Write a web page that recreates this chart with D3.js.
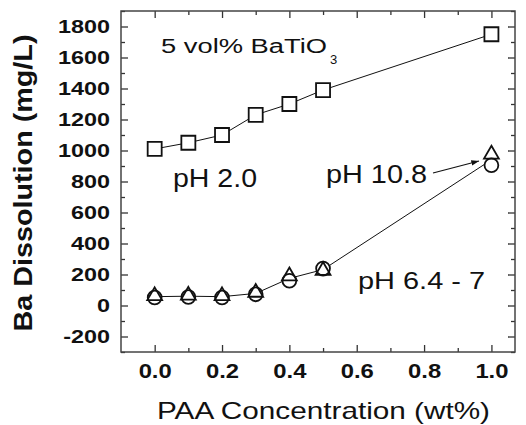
<!DOCTYPE html>
<html>
<head>
<meta charset="utf-8">
<script src="https://cdn.jsdelivr.net/npm/d3@7"></script>
<style>
  body { margin: 0; background: #fff; }
  svg { display: block; font-family: "Liberation Sans", Arial, sans-serif; }
</style>
</head>
<body>
<div id="chart"></div>
<script>
// data
var conc = [0.0, 0.1, 0.2, 0.3, 0.4, 0.5, 1.0];
var phAcid = [1010, 1050, 1100, 1230, 1300, 1390, 1750];     // squares, pH 2.0
var phTri = [62, 65, 62, 84, 190, 225, 975];                // triangles
var phCirc = [52, 55, 52, 72, 160, 238, 905];               // circles
var xTicks = [0.0, 0.2, 0.4, 0.6, 0.8, 1.0];
var xMinor = [0.1, 0.3, 0.5, 0.7, 0.9];
var yTicks = [-200, 0, 200, 400, 600, 800, 1000, 1200, 1400, 1600, 1800];
var yMinor = [-300, -100, 100, 300, 500, 700, 900, 1100, 1300, 1500, 1700, 1900];

var W = 526, H = 425;
var margin = {top: 11, right: 11, bottom: 73, left: 121},
    width = W - margin.left - margin.right,
    height = H - margin.top - margin.bottom;

var svg = d3.select("#chart").append("svg")
    .attr("width", W)
    .attr("height", H);

var g = svg.append("g")
    .attr("transform", "translate(" + margin.left + "," + margin.top + ")");

var x = d3.scaleLinear().domain([-0.1, 1.07]).range([0, width]);
var y = d3.scaleLinear().domain([-300, 1900]).range([height, 0]);

// axes, ticks pointing inward
function styleAxis(sel) {
  sel.select(".domain").remove();
  sel.selectAll("line").attr("stroke", "#333").attr("stroke-width", 1.3);
}

g.append("g").attr("class", "ylab")
    .call(d3.axisLeft(y).tickValues(yTicks).tickSizeInner(-7).tickSizeOuter(0).tickPadding(11)
      .tickFormat(function(d) { return String(d); }))
    .call(styleAxis);
g.append("g")
    .call(d3.axisLeft(y).tickValues(yMinor).tickSizeInner(-4).tickSizeOuter(0).tickFormat(""))
    .call(styleAxis);
g.append("g").attr("transform", "translate(" + width + ",0)")
    .call(d3.axisRight(y).tickValues(yTicks).tickSizeInner(-7).tickSizeOuter(0).tickFormat(""))
    .call(styleAxis);
g.append("g").attr("transform", "translate(" + width + ",0)")
    .call(d3.axisRight(y).tickValues(yMinor).tickSizeInner(-4).tickSizeOuter(0).tickFormat(""))
    .call(styleAxis);

g.append("g").attr("class", "xlab").attr("transform", "translate(0," + height + ")")
    .call(d3.axisBottom(x).tickValues(xTicks).tickSizeInner(-7).tickSizeOuter(0).tickPadding(12)
      .tickFormat(d3.format(".1f")))
    .call(styleAxis);
g.append("g").attr("transform", "translate(0," + height + ")")
    .call(d3.axisBottom(x).tickValues(xMinor).tickSizeInner(-4).tickSizeOuter(0).tickFormat(""))
    .call(styleAxis);
g.append("g")
    .call(d3.axisTop(x).tickValues(xTicks).tickSizeInner(-7).tickSizeOuter(0).tickFormat(""))
    .call(styleAxis);
g.append("g")
    .call(d3.axisTop(x).tickValues(xMinor).tickSizeInner(-4).tickSizeOuter(0).tickFormat(""))
    .call(styleAxis);

g.selectAll(".ylab text")
    .attr("font-size", 18).attr("font-weight", "bold").attr("fill", "#111")
    .attr("font-family", "Liberation Sans, Arial, sans-serif")
    .attr("data-k", 1.3);
g.selectAll(".xlab text")
    .attr("font-size", 20).attr("font-weight", "bold").attr("fill", "#111")
    .attr("font-family", "Liberation Sans, Arial, sans-serif")
    .attr("data-k", 1.19);

// frame
g.append("rect")
    .attr("width", width).attr("height", height)
    .attr("fill", "none").attr("stroke", "#444").attr("stroke-width", 1.5);

// lines
var lineGen = d3.line().x(function(d) { return x(d[0]); }).y(function(d) { return y(d[1]); });

g.append("path")
    .datum(d3.zip(conc, phAcid))
    .attr("d", lineGen)
    .attr("fill", "none").attr("stroke", "#111").attr("stroke-width", 1);

g.append("path")
    .datum(d3.zip(conc, phCirc.map(function(v, i) { return (v + phTri[i]) / 2; })))
    .attr("d", lineGen)
    .attr("fill", "none").attr("stroke", "#111").attr("stroke-width", 1);

// markers
function drawMarkers(vals, type, size, fill) {
  g.append("g").selectAll("path")
    .data(d3.zip(conc, vals))
    .enter().append("path")
      .attr("transform", function(d) { return "translate(" + x(d[0]) + "," + y(d[1]) + ")"; })
      .attr("d", d3.symbol().type(type).size(size))
      .attr("fill", fill)
      .attr("stroke", "#111").attr("stroke-width", 1.8);
}
drawMarkers(phCirc, d3.symbolCircle, 150, "#fff");
drawMarkers(phTri, d3.symbolTriangle, 95, "none");
drawMarkers(phAcid, d3.symbolSquare, 196, "#fff");

// annotations
svg.append("defs").append("marker")
    .attr("id", "arr").attr("viewBox", "0 0 10 10")
    .attr("refX", 10).attr("refY", 5)
    .attr("markerWidth", 7).attr("markerHeight", 7)
    .attr("orient", "auto")
  .append("path").attr("d", "M0,1.5 L10,5 L0,8.5 Z").attr("fill", "#111");

svg.append("line")
    .attr("x1", 433).attr("y1", 173).attr("x2", 479).attr("y2", 161)
    .attr("stroke", "#111").attr("stroke-width", 1.1)
    .attr("marker-end", "url(#arr)");

function label(txt, px, py, size, w, opts) {
  opts = opts || {};
  var t = svg.append("text")
    .attr("x", px).attr("y", py)
    .attr("font-size", size)
    .attr("fill", "#111")
    .attr("font-weight", opts.bold ? "bold" : "normal")
    .attr("text-anchor", opts.anchor || "start")
    .text(txt);
  if (opts.rotate) t.attr("transform", "rotate(-90," + px + "," + py + ")");
  if (w) t.attr("textLength", w).attr("lengthAdjust", "spacingAndGlyphs");
  return t;
}

label("5 vol% BaTiO", 161, 53, 20, 166);
label("3", 330, 64, 13, 0);
label("pH 2.0", 173, 187, 25, 84);
label("pH 10.8", 326, 183, 25, 101);
label("pH 6.4 - 7", 358, 289, 24, 127);
label("PAA Concentration (wt%)", 323.5, 419, 24, 333, {anchor: "middle"});
label("Ba Dissolution (mg/L)", 32, 183, 26, 297, {anchor: "middle", bold: true, rotate: true});

// stretch tick labels horizontally like the scanned figure
g.selectAll("text[data-k]").each(function() {
  var k = +this.getAttribute("data-k");
  var len = this.getComputedTextLength();
  d3.select(this).attr("textLength", len * k).attr("lengthAdjust", "spacingAndGlyphs");
});
</script>
</body>
</html>
